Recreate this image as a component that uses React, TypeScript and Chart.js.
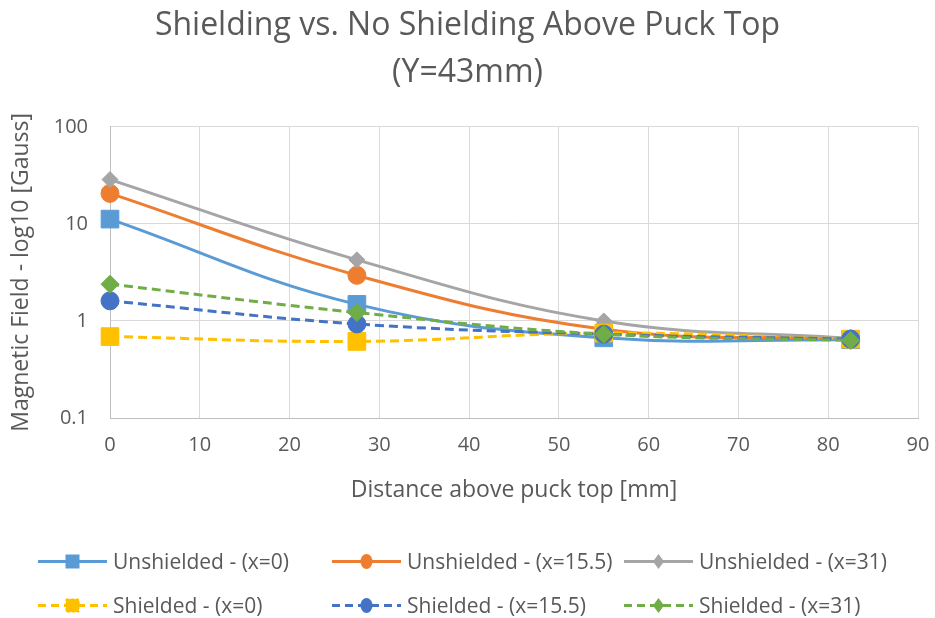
import React, { useEffect, useRef } from 'react';
import { Chart, registerables } from 'chart.js';

Chart.register(...registerables);

const distances = [0, 27.5, 55, 82.5];
const unshielded0 = [11.2, 1.48, 0.67, 0.64];
const unshielded155 = [20.6, 2.95, 0.82, 0.65];
const unshielded31 = [28.6, 4.26, 1.0, 0.66];
const shielded0 = [0.69, 0.615, 0.75, 0.65];
const shielded155 = [1.61, 0.93, 0.73, 0.65];
const shielded31 = [2.39, 1.22, 0.73, 0.63];

const seriesNames = [
  'Unshielded - (x=0)',
  'Unshielded - (x=15.5)',
  'Unshielded - (x=31)',
  'Shielded - (x=0)',
  'Shielded - (x=15.5)',
  'Shielded - (x=31)',
];
const seriesValues = [unshielded0, unshielded155, unshielded31, shielded0, shielded155, shielded31];
const seriesColors = ['#5B9BD5', '#ED7D31', '#A5A5A5', '#FFC000', '#4472C4', '#70AD47'];
const seriesMarkers = ['rect', 'circle', 'rectRot', 'rect', 'circle', 'rectRot'];
const seriesRadius = [12.5, 9, 8, 12.5, 9, 9];
const seriesDashed = [false, false, false, true, true, true];

const yTicks = [0.1, 1, 10, 100];
const yTickLabels = ['0.1', '1', '10', '100'];

const titleLines = ['Shielding vs. No Shielding Above Puck Top', '(Y=43mm)'];
const xTitle = 'Distance above puck top [mm]';
const yTitle = 'Magnetic Field - log10 [Gauss]';

const FONT = "'Open Sans', 'DejaVu Sans', sans-serif";
const TEXT = '#595959';

function LegendSymbol({ i }: { i: number }) {
  const c = seriesColors[i];
  const m = seriesMarkers[i];
  const dash = seriesDashed[i] ? '8 5' : undefined;
  let marker: React.ReactNode = null;
  if (m === 'rect') {
    marker = <rect x={29} y={4} width={13} height={13} fill={c} stroke={c} strokeWidth={1} strokeDasharray={seriesDashed[i] ? '3 2' : undefined} />;
  } else if (m === 'circle') {
    marker = <ellipse cx={35.5} cy={10.5} rx={6} ry={7.5} fill={c} />;
  } else {
    marker = <polygon points="35.5,3 41,10.5 35.5,18 30,10.5" fill={c} />;
  }
  return (
    <svg width={71} height={21} style={{ display: 'block', flex: 'none' }}>
      <line x1={1} y1={10.5} x2={70} y2={10.5} stroke={c} strokeWidth={3} strokeDasharray={dash} />
      {marker}
    </svg>
  );
}

export default function App() {
  const ref = useRef<HTMLCanvasElement | null>(null);

  useEffect(() => {
    document.body.style.margin = '0';
    const canvas = ref.current;
    if (!canvas) return;
    const datasets = seriesNames.map((name, i) => ({
      label: name,
      data: distances.map((d, k) => ({ x: d, y: seriesValues[i][k] })),
      borderColor: seriesColors[i],
      backgroundColor: seriesColors[i],
      borderWidth: 3,
      borderDash: seriesDashed[i] ? [9, 5] : [],
      pointStyle: seriesMarkers[i] as any,
      pointRadius: seriesRadius[i],
      pointBorderWidth: 1,
      pointBackgroundColor: seriesColors[i],
      pointBorderColor: seriesColors[i],
      tension: 0.4,
      fill: false,
      clip: false as any,
      order: 10 - i,
    }));

    const chart = new Chart(canvas, {
      type: 'line',
      data: { datasets },
      options: {
        responsive: false,
        maintainAspectRatio: false,
        animation: false,
        layout: { padding: { left: 0, right: 0, top: 0, bottom: 113 } },
        plugins: {
          legend: { display: false },
          tooltip: { enabled: false },
          title: {
            display: true,
            text: titleLines,
            color: TEXT,
            font: { family: FONT, size: 32, weight: 'normal', lineHeight: 1.45 },
            padding: { top: 3, bottom: 31 },
          },
        },
        scales: {
          x: {
            type: 'linear',
            min: 0,
            max: 90,
            ticks: {
              stepSize: 10,
              color: TEXT,
              padding: 15,
              font: { family: FONT, size: 20 },
              maxRotation: 0,
            },
            grid: { color: '#D9D9D9', lineWidth: 1, drawTicks: false },
            border: { color: '#BFBFBF', width: 1 },
            title: {
              display: true,
              text: xTitle,
              color: TEXT,
              font: { family: FONT, size: 23, lineHeight: 1.2 },
              padding: { top: 0, bottom: 1 },
            },
            afterFit: (s: any) => {
              s.height = 87;
              s.paddingLeft = 0;
              s.paddingRight = 17;
            },
          },
          y: {
            type: 'logarithmic',
            min: 0.1,
            max: 100,
            afterBuildTicks: (axis: any) => {
              axis.ticks = yTicks.map((v) => ({ value: v }));
            },
            ticks: {
              color: TEXT,
              padding: 22,
              font: { family: FONT, size: 20 },
              callback: (v: any) => {
                const idx = yTicks.indexOf(Number(v));
                return idx >= 0 ? yTickLabels[idx] : '';
              },
            },
            grid: { color: '#D9D9D9', lineWidth: 1, drawTicks: false },
            border: { color: '#BFBFBF', width: 1 },
            title: {
              display: true,
              text: yTitle,
              color: TEXT,
              font: { family: FONT, size: 23, lineHeight: 1.2 },
              padding: { top: 8, bottom: 0 },
            },
            afterFit: (s: any) => {
              s.width = 110;
            },
          },
        },
      },
    });
    return () => chart.destroy();
  }, []);

  const colLeft = [37, 331, 623];
  const rowCenter = [561, 605];

  return (
    <div style={{ position: 'absolute', left: 0, top: 0, width: 935, height: 618, background: '#fff' }}>
      <canvas ref={ref} width={935} height={618} style={{ display: 'block', width: 935, height: 618 }} />
      {seriesNames.map((name, i) => {
        const row = Math.floor(i / 3);
        const col = i % 3;
        return (
          <div
            key={name}
            style={{
              position: 'absolute',
              left: colLeft[col],
              top: rowCenter[row] - 15,
              height: 30,
              display: 'flex',
              alignItems: 'center',
              gap: 5,
              fontFamily: FONT,
              fontSize: 21,
              color: TEXT,
              whiteSpace: 'nowrap',
            }}
          >
            <LegendSymbol i={i} />
            <span>{name}</span>
          </div>
        );
      })}
    </div>
  );
}
